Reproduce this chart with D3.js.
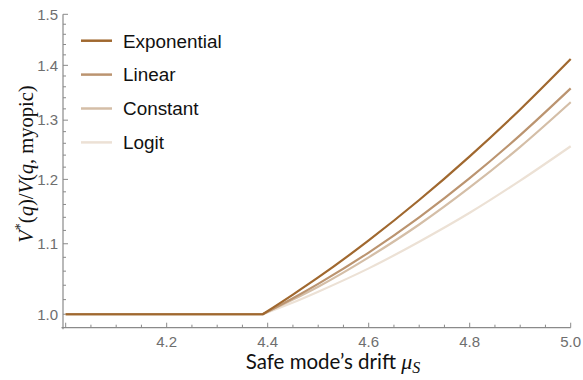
<!DOCTYPE html>
<html>
<head>
<meta charset="utf-8">
<script src="https://cdn.jsdelivr.net/npm/d3@7"></script>
<style>
  body { margin: 0; background: #fff; }
</style>
</head>
<body>
<div id="chart"></div>
<script>
// Safe mode's drift (x) values
const drift = [4.0, 4.39, 4.45, 4.5, 4.6, 4.7, 4.8, 4.9, 5.0];

// Ratio V*(q)/V(q, myopic) for each rule
const exponential = [1.0, 1.0, 1.027, 1.051, 1.105, 1.167, 1.238, 1.319, 1.412];
const linear      = [1.0, 1.0, 1.022, 1.042, 1.087, 1.140, 1.202, 1.274, 1.357];
const constant    = [1.0, 1.0, 1.020, 1.038, 1.080, 1.129, 1.187, 1.254, 1.332];
const logit       = [1.0, 1.0, 1.016, 1.031, 1.064, 1.103, 1.147, 1.198, 1.255];

const seriesNames = ['Exponential', 'Linear', 'Constant', 'Logit'];
const seriesValues = [exponential, linear, constant, logit];
const colors = ['#a0682f', '#bb9470', '#d4bea7', '#ece1d5'];

const xTicks = [4.0, 4.2, 4.4, 4.6, 4.8, 5.0];
const yTicks = [1.0, 1.1, 1.2, 1.3, 1.4, 1.5];

const width = 583;
const height = 380;

const svg = d3.select('#chart').append('svg')
  .attr('width', width)
  .attr('height', height);

// scales (y is logarithmic)
const x = d3.scaleLinear()
  .domain([3.9947, 5.0])
  .range([63, 570.7]);

const y = d3.scaleLog()
  .domain([0.982, 1.5])
  .range([327.7, 14.3]);

const axisColor = '#8a8a8a';
const labelColor = '#6e6e6e';

// x axis
const xMinor = d3.range(0, 21).map(i => 4.0 + i * 0.05)
  .filter(v => !xTicks.some(t => Math.abs(t - v) < 1e-6));

const gx = svg.append('g')
  .attr('transform', `translate(0,${y.range()[0]})`);

gx.append('line')
  .attr('x1', 61.5).attr('x2', x.range()[1])
  .attr('stroke', axisColor).attr('stroke-width', 1.2);

gx.selectAll('.major').data(xTicks).join('line')
  .attr('x1', d => x(d)).attr('x2', d => x(d))
  .attr('y1', 0).attr('y2', -5)
  .attr('stroke', axisColor);

gx.selectAll('.minor').data(xMinor).join('line')
  .attr('x1', d => x(d)).attr('x2', d => x(d))
  .attr('y1', 0).attr('y2', -3)
  .attr('stroke', axisColor);

gx.selectAll('text').data(xTicks.filter(d => d > 4.0)).join('text')
  .attr('x', d => x(d))
  .attr('y', 19)
  .attr('text-anchor', 'middle')
  .style('font-family', '"Liberation Sans", Arial, sans-serif')
  .style('font-size', '15px')
  .style('fill', labelColor)
  .text(d => d.toFixed(1));

// y axis
const yMinor = d3.range(0, 26).map(i => 1.0 + i * 0.02)
  .filter(v => !yTicks.some(t => Math.abs(t - v) < 1e-6));

const gy = svg.append('g')
  .attr('transform', `translate(${x.range()[0]},0)`);

gy.append('line')
  .attr('y1', y.range()[1]).attr('y2', y.range()[0] + 1.5)
  .attr('stroke', axisColor).attr('stroke-width', 1.2);

gy.selectAll('.major').data(yTicks).join('line')
  .attr('y1', d => y(d)).attr('y2', d => y(d))
  .attr('x1', 0).attr('x2', 5)
  .attr('stroke', axisColor);

gy.selectAll('.minor').data(yMinor).join('line')
  .attr('y1', d => y(d)).attr('y2', d => y(d))
  .attr('x1', 0).attr('x2', 3)
  .attr('stroke', axisColor);

gy.selectAll('text').data(yTicks).join('text')
  .attr('x', -5)
  .attr('y', d => y(d))
  .attr('dy', '0.35em')
  .attr('text-anchor', 'end')
  .style('font-family', '"Liberation Sans", Arial, sans-serif')
  .style('font-size', '15px')
  .style('fill', labelColor)
  .text(d => d.toFixed(1));

// curves: flat part straight, rising part smooth (keeps the kink)
const kink = 1;
const flat = d3.line().x(d => x(d[0])).y(d => y(d[1]));
const rise = d3.line().x(d => x(d[0])).y(d => y(d[1])).curve(d3.curveMonotoneX);

const plot = svg.append('g');
for (let s = seriesValues.length - 1; s >= 0; s--) {
  const pts = drift.map((d, i) => [d, seriesValues[s][i]]);
  const path = flat(pts.slice(0, kink + 1)) + rise(pts.slice(kink)).replace(/^M/, 'L');
  plot.append('path')
    .attr('d', path)
    .attr('fill', 'none')
    .attr('stroke', colors[s])
    .attr('stroke-width', 2.2)
    .attr('stroke-linejoin', 'round');
}

// legend
const legend = svg.append('g').attr('transform', 'translate(81,40.7)');
seriesNames.forEach((name, i) => {
  const row = legend.append('g').attr('transform', `translate(0,${i * 33.9})`);
  row.append('line')
    .attr('x1', 0).attr('x2', 31)
    .attr('stroke', colors[i])
    .attr('stroke-width', 2.5);
  row.append('text')
    .attr('x', 42)
    .attr('dy', '0.36em')
    .style('font-family', '"Liberation Sans", Arial, sans-serif')
    .style('font-size', '18.9px')
    .style('fill', '#111')
    .text(name);
});

// x axis title
const xTitle = svg.append('text')
  .attr('x', 333)
  .attr('y', 369)
  .attr('text-anchor', 'middle')
  .style('font-family', 'Lato, "Open Sans", sans-serif')
  .style('font-size', '20.5px')
  .style('fill', '#111');
xTitle.append('tspan').text('Safe mode\u2019s drift ');
xTitle.append('tspan').style('font-family', '"Liberation Serif", serif').style('font-style', 'italic').style('font-size', '22px').text('\u03bc');
xTitle.append('tspan').attr('dy', 4).style('font-family', '"Liberation Serif", serif').style('font-style', 'italic').style('font-size', '16px').text('S');

// y axis title
const yTitle = svg.append('text')
  .attr('transform', 'translate(33,164) rotate(-90)')
  .attr('text-anchor', 'middle')
  .style('font-family', '"Liberation Serif", "Times New Roman", serif')
  .style('font-size', '20.5px')
  .style('fill', '#111');
yTitle.append('tspan').style('font-style', 'italic').text('V');
yTitle.append('tspan').attr('dy', -8).style('font-size', '14px').text('*');
yTitle.append('tspan').attr('dy', 8).text('(');
yTitle.append('tspan').style('font-style', 'italic').text('q');
yTitle.append('tspan').text(')/');
yTitle.append('tspan').style('font-style', 'italic').text('V');
yTitle.append('tspan').text('(');
yTitle.append('tspan').style('font-style', 'italic').text('q');
yTitle.append('tspan').text(', myopic)');
</script>
</body>
</html>
